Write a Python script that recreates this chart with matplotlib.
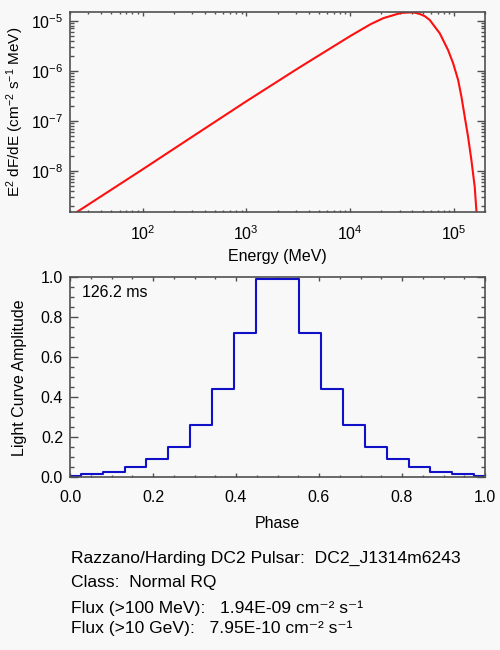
import matplotlib
matplotlib.use('Agg')
import matplotlib.pyplot as plt

plt.rcParams['font.family'] = ['Liberation Sans', 'DejaVu Sans']
plt.rcParams['mathtext.fontset'] = 'custom'
plt.rcParams['mathtext.rm'] = 'Liberation Sans'
plt.rcParams['mathtext.it'] = 'Liberation Sans:italic'
plt.rcParams['mathtext.bf'] = 'Liberation Sans:bold'
plt.rcParams['axes.unicode_minus'] = False

# spectrum (MeV, E^2 dF/dE)
energy = [20, 100, 316, 1000, 3160, 10000, 15800, 20900, 28200, 31600,
          37800, 41700, 47100, 52500, 58700, 73300, 88100, 98600, 110200,
          118600, 127600, 137400, 147900, 159200, 165200, 169800]
e2dfde = [1.23e-9, 1.07e-8, 5.13e-8, 2.45e-7, 1.12e-6, 4.90e-6, 8.51e-6,
          1.12e-5, 1.35e-5, 1.43e-5, 1.46e-5, 1.45e-5, 1.36e-5, 1.23e-5,
          1.03e-5, 5.58e-6, 2.59e-6, 1.41e-6, 6.52e-7, 3.02e-7, 1.20e-7,
          4.79e-8, 1.64e-8, 4.79e-9, 1.64e-9, 1.0e-9]

# light curve, 20 phase bins
phase = [0.0, 0.0526, 0.1053, 0.1579, 0.2105, 0.2632, 0.3158, 0.3684,
         0.4211, 0.4737, 0.5263, 0.5789, 0.6316, 0.6842, 0.7368, 0.7895,
         0.8421, 0.8947, 0.9474, 1.0]
amplitude = [0.006, 0.016, 0.028, 0.05, 0.09, 0.15, 0.26, 0.44, 0.72, 0.99,
             0.99, 0.72, 0.44, 0.26, 0.15, 0.09, 0.05, 0.028, 0.016, 0.006]

period_txt = "126.2 ms"
info_lines = ["Razzano/Harding DC2 Pulsar:  DC2_J1314m6243",
              "Class:  Normal RQ",
              "Flux (>100 MeV):   1.94E-09 cm\u207b\u00b2 s\u207b\u00b9",
              "Flux (>10 GeV):   7.95E-10 cm\u207b\u00b2 s\u207b\u00b9"]

bg = '#f8f8f8'
edge = '#505050'
fs = 11.5

fig = plt.figure(figsize=(5, 6.5), dpi=100, facecolor=bg)
ax1 = fig.add_axes([0.14, 0.6738, 0.83, 0.3073])
ax2 = fig.add_axes([0.14, 0.2657, 0.83, 0.3077])

for ax in (ax1, ax2):
    ax.set_facecolor(bg)
    for s in ax.spines.values():
        s.set_color(edge)
        s.set_linewidth(1.2)
    ax.tick_params(which='both', direction='in', top=True, right=True,
                   colors=edge, labelcolor='black', labelsize=fs)
    ax.tick_params(axis='x', which='major', length=3, width=1, pad=9)
    ax.tick_params(axis='x', which='minor', length=1.5, width=1)
    ax.tick_params(axis='y', which='major', length=6, width=1, pad=5)
    ax.tick_params(axis='y', which='minor', length=3, width=1)

# top: spectrum
ax1.plot(energy, e2dfde, color='#ff1010', linewidth=1.5)
ax1.set_xscale('log')
ax1.set_yscale('log')
ax1.set_xlim(20, 2.0e5)
ax1.set_ylim(1.51e-9, 1.47e-5)
ax1.set_xlabel("Energy (MeV)", fontsize=fs)
ax1.set_ylabel("E$^2$ dF/dE (cm$^{-2}$ s$^{-1}$ MeV)", fontsize=11)
ax1.xaxis.set_label_coords(0.5, -0.185)
ax1.yaxis.set_label_coords(-0.105, 0.5)

# bottom: light curve
ax2.step(phase, amplitude, where='mid', color='#1010c8', linewidth=1.5)
ax2.set_xlim(0, 1)
ax2.set_ylim(0, 1)
ax2.set_xticks([0.0, 0.2, 0.4, 0.6, 0.8, 1.0])
ax2.set_xticks([i * 0.05 for i in range(21)], minor=True)
ax2.set_yticks([0.0, 0.2, 0.4, 0.6, 0.8, 1.0])
ax2.set_yticks([i * 0.05 for i in range(21)], minor=True)
ax2.set_xticklabels(["0.0", "0.2", "0.4", "0.6", "0.8", "1.0"])
ax2.set_yticklabels(["0.0", "0.2", "0.4", "0.6", "0.8", "1.0"])
ax2.set_xlabel("Phase", fontsize=fs)
ax2.set_ylabel("Light Curve Amplitude", fontsize=fs)
ax2.xaxis.set_label_coords(0.5, -0.194)
ax2.yaxis.set_label_coords(-0.103, 0.5)
ax2.text(0.028, 0.9, period_txt, transform=ax2.transAxes, fontsize=fs,
         va='baseline')

# info text underneath
ys = [0.1334, 0.0965, 0.0565, 0.0257]
for line, y in zip(info_lines, ys):
    fig.text(0.142, y, line, fontsize=12.6, va='baseline')

fig.savefig('out.png', dpi=100, facecolor=bg)
